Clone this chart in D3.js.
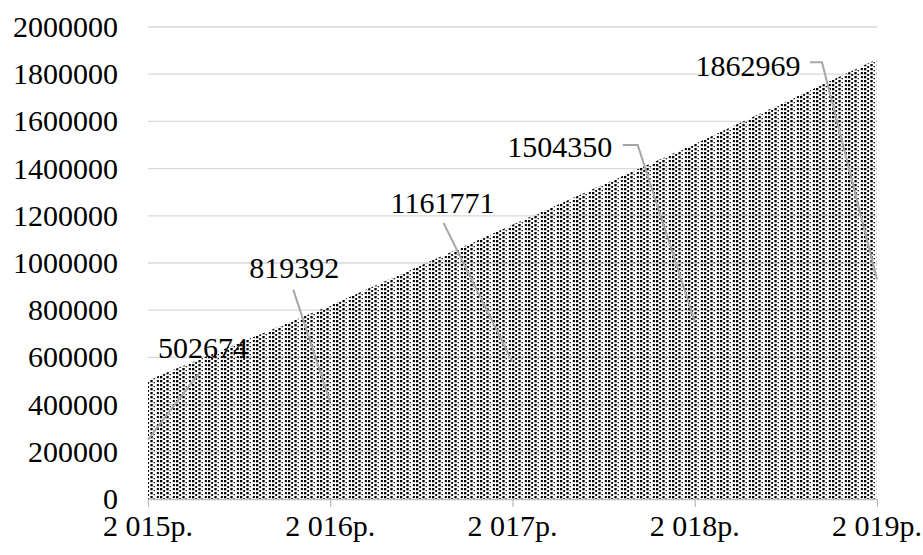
<!DOCTYPE html>
<html>
<head>
<meta charset="utf-8">
<script src="https://cdn.jsdelivr.net/npm/d3@7/dist/d3.min.js"></script>
</head>
<body style="margin:0;background:#fff">
<svg id="chart" width="923" height="555" style="display:block"></svg>
<script>
// Chart data
const years = ["2 015р.", "2 016р.", "2 017р.", "2 018р.", "2 019р."];
const values = [502674, 819392, 1161771, 1504350, 1862969];
const yTicks = [0, 200000, 400000, 600000, 800000, 1000000, 1200000, 1400000, 1600000, 1800000, 2000000];

// Data-label placement (offset from the data point) and leader-line shape
const labelLayout = [
  { dx: 55,   dy: -32, lx: -4, ly: 25, elbow: 0 },
  { dx: -36,  dy: -38, lx: -1, ly: 22, elbow: 0 },
  { dx: -70,  dy: -22, lx: 1,  ly: 20, elbow: 0 },
  { dx: -135, dy: 3,   lx: 63, ly: -2, elbow: 15 },
  { dx: -129, dy: 7,   lx: 62, ly: -4, elbow: 12 }
];

const svg = d3.select("#chart");
const W = 923, H = 555;
const plotLeft = 148, plotRight = 877, plotTop = 27, plotBottom = 499;
const serif = '"Liberation Serif", monospace';

svg.append("rect").attr("width", W).attr("height", H).attr("fill", "#fff");

const x = d3.scalePoint().domain(years).range([plotLeft, plotRight]);
const y = d3.scaleLinear().domain([0, 2000000]).range([plotBottom, plotTop]);

// Dotted screen fill with vertical banding
const defs = svg.append("defs");
const pat = defs.append("pattern")
  .attr("id", "dots")
  .attr("patternUnits", "userSpaceOnUse")
  .attr("width", 16).attr("height", 4);
const cols = [
  { x: 0,    s: 2.3, o: 0 },
  { x: 3.2,  s: 1.9, o: 2 },
  { x: 6.4,  s: 2.3, o: 0 },
  { x: 9.6,  s: 1.3, o: 2 },
  { x: 12.8, s: 2.1, o: 0 }
];
cols.forEach(c => {
  pat.append("rect").attr("x", c.x).attr("y", c.o).attr("width", c.s).attr("height", c.s).attr("fill", "#000");
});

// Gridlines
svg.append("g")
  .selectAll("line")
  .data(yTicks.filter(d => d > 0))
  .join("line")
  .attr("x1", plotLeft).attr("x2", plotRight)
  .attr("y1", d => y(d)).attr("y2", d => y(d))
  .attr("stroke", "#d9d9d9").attr("stroke-width", 1.3);

// Area
const area = d3.area()
  .x((d, i) => x(years[i]))
  .y0(y(0))
  .y1(d => y(d));
svg.append("path")
  .datum(values)
  .attr("d", area)
  .attr("fill", "url(#dots)");

// X axis line and tick marks
const xAxis = svg.append("g").attr("transform", `translate(0,${plotBottom})`)
  .call(d3.axisBottom(x).tickSize(8).tickFormat(""));
xAxis.select(".domain").attr("stroke", "#bfbfbf").attr("stroke-width", 1.3)
  .attr("d", `M${plotLeft},0.5H${plotRight}`);
xAxis.selectAll(".tick line").attr("stroke", "#bfbfbf").attr("stroke-width", 1.3);
xAxis.selectAll(".tick text").remove();

// Category labels
years.forEach(d => {
  svg.append("text")
    .attr("x", x(d)).attr("y", plotBottom + 37)
    .attr("text-anchor", "middle")
    .style("font-family", serif).style("font-size", "30px")
    .attr("fill", "#000")
    .text(d);
});

// Value-axis labels
yTicks.forEach(d => {
  svg.append("text")
    .attr("x", plotLeft - 30).attr("y", y(d) + 10)
    .attr("text-anchor", "end")
    .style("font-family", serif).style("font-size", "30px")
    .attr("fill", "#000")
    .text(d3.format("d")(d));
});

// Leader lines to the middle of the area under each point
values.forEach((v, i) => {
  const L = labelLayout[i];
  const px = x(years[i]), py = y(v);
  const cx = px + L.dx, cy = py + L.dy;
  const sx = cx + L.lx, sy = cy + L.ly;
  const path = d3.path();
  path.moveTo(sx, sy);
  if (L.elbow) path.lineTo(sx + L.elbow, sy);
  path.lineTo(px, y(v / 2));
  svg.append("path").attr("d", path.toString())
    .attr("fill", "none").attr("stroke", "#a6a6a6").attr("stroke-width", 2);
});

// Data labels
values.forEach((v, i) => {
  svg.append("text")
    .attr("x", x(years[i]) + labelLayout[i].dx)
    .attr("y", y(v) + labelLayout[i].dy + 10)
    .attr("text-anchor", "middle")
    .style("font-family", serif).style("font-size", "30px")
    .attr("fill", "#000")
    .text(String(v));
});
</script>
</body>
</html>
